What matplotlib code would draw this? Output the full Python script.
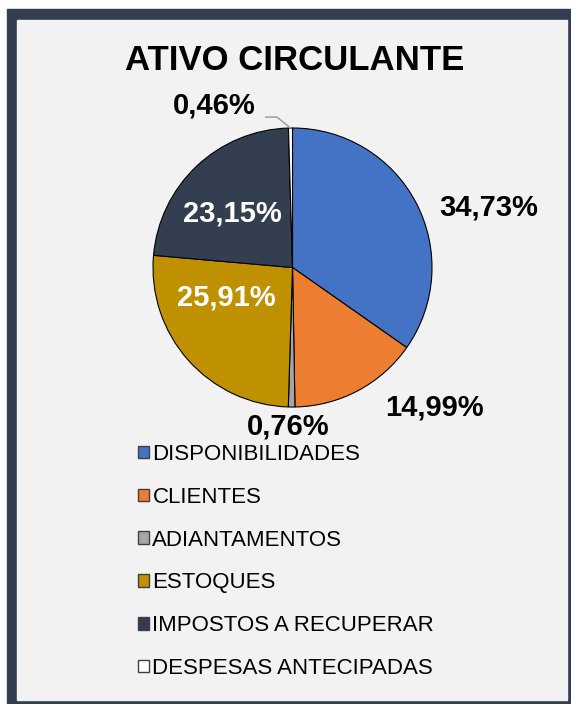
import numpy as np
import matplotlib
matplotlib.use("Agg")
import matplotlib.pyplot as plt
import matplotlib.patches as mpatches

plt.rcParams["font.family"] = ["Liberation Sans", "DejaVu Sans"]

# data
categories = ["DISPONIBILIDADES", "CLIENTES", "ADIANTAMENTOS", "ESTOQUES",
              "IMPOSTOS A RECUPERAR", "DESPESAS ANTECIPADAS"]
shares = [34.73, 14.99, 0.76, 25.91, 23.15, 0.46]
colors = ["#4472C4", "#ED7D31", "#A5A5A5", "#BF9000", "#333F50", "#FFFFFF"]
title = "ATIVO CIRCULANTE"

# label placement (radius in pie radii, angle in degrees) and text colour
label_pos = [(1.47, 17.0), (1.43, -44.5), (1.14, -91.6),
             (0.52, -156.0), (0.58, 138.0), (1.29, 115.9)]
label_colors = ["black", "black", "black", "white", "white", "black"]

W, H = 571, 704
fig = plt.figure(figsize=(W / 100, H / 100), dpi=100)
fig.patch.set_facecolor("white")

# dark frame with light panel
fig.add_artist(mpatches.Rectangle((7 / W, 0), 1 - 7 / W, 1 - 9 / H,
                                  transform=fig.transFigure, color="#333F50", zorder=0))
fig.add_artist(mpatches.Rectangle((17 / W, 4 / H), (567 - 17) / W, (700 - 20) / H,
                                  transform=fig.transFigure, color="#F2F2F2", zorder=0))

fig.text(295 / W, 1 - 60 / H, title, ha="center", va="center",
         fontsize=25, fontweight="bold", color="black")

# pie axes: centre (292.5, 267.5) px, radius 139.5 px
lim = 1.6
side = 2 * lim * 139.5
ax = fig.add_axes([(292.5 - side / 2) / W, (H - 267.5 - side / 2) / H, side / W, side / H])
ax.patch.set_alpha(0)

wedges, _ = ax.pie(shares, colors=colors, startangle=90, counterclock=False,
                   wedgeprops={"linewidth": 0.8, "edgecolor": "black"})
ax.set_xlim(-lim, lim)
ax.set_ylim(-lim, lim)
ax.set_aspect("equal")
ax.axis("off")

for w, v, (r, ang), c in zip(wedges, shares, label_pos, label_colors):
    x, y = r * np.cos(np.radians(ang)), r * np.sin(np.radians(ang))
    ax.text(x, y, f"{v:.2f}%".replace(".", ","), ha="center", va="center",
            fontsize=21, fontweight="bold", color=c)

# leader line for the tiny last slice
w = wedges[-1]
mid = np.radians((w.theta1 + w.theta2) / 2)
ex, ey = np.cos(mid), np.sin(mid)
r, ang = label_pos[-1]
tx, ty = r * np.cos(np.radians(ang)), r * np.sin(np.radians(ang))
ax.plot([tx + 0.366, tx + 0.452, ex], [ty - 0.082, ty - 0.082, ey],
        color="#A6A6A6", linewidth=1.2, solid_capstyle="butt")

handles = [mpatches.Patch(facecolor=c, edgecolor="#404040", linewidth=1.0, label=l)
           for c, l in zip(colors, categories)]
fig.legend(handles=handles, loc="upper left", bbox_to_anchor=(138 / W, 1 - 444 / H),
           frameon=False, fontsize=16, handlelength=0.5, handleheight=0.5,
           handletextpad=0.15, labelspacing=0.98, borderpad=0, borderaxespad=0)

fig.savefig("out.png", dpi=100)
